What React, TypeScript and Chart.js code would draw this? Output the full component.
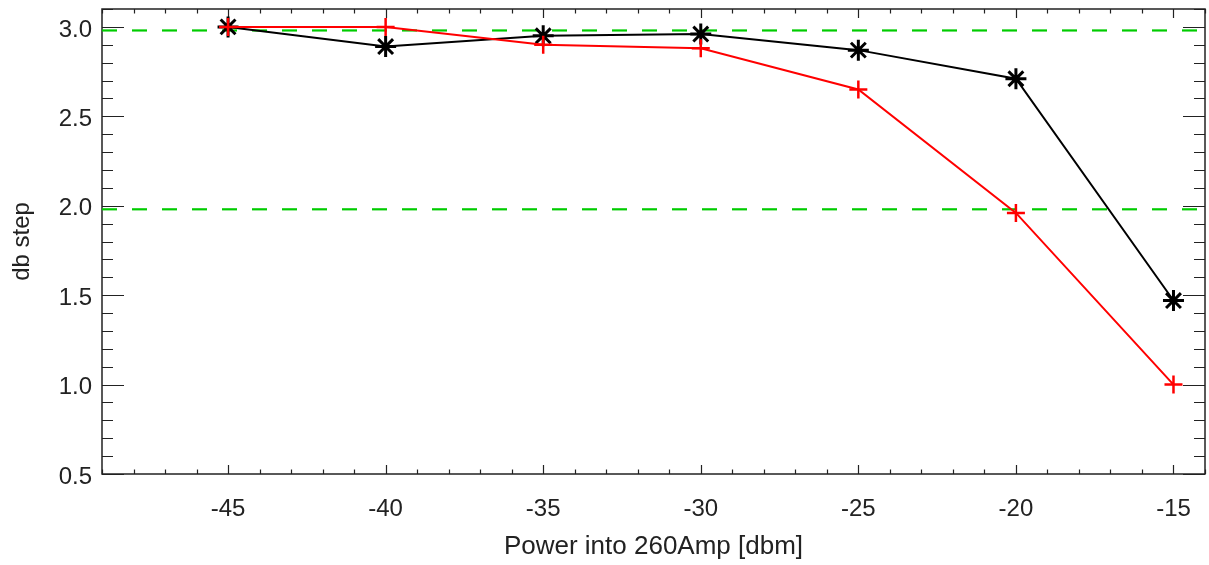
import { useEffect, useRef } from 'react';
import { Chart, registerables } from 'chart.js';

Chart.register(...registerables);

// ---- data ----
const powerDbm = [-45, -40, -35, -30, -25, -20, -15];
const blackSteps = [3.0, 2.89, 2.95, 2.96, 2.87, 2.71, 1.47];
const redSteps = [3.0, 3.0, 2.9, 2.88, 2.65, 1.96, 1.0];
const referenceLevels = [2.98, 1.98];

const xTickValues = [-45, -40, -35, -30, -25, -20, -15];
const yTickValues = [0.5, 1.0, 1.5, 2.0, 2.5, 3.0];
const xRange = [-49, -14];
const yRange = [0.5, 3.1];

const FONT = "'Liberation Sans', Arial, Helvetica, sans-serif";
const TEXT = '#222';

const frameTicks = {
  id: 'frameTicks',
  beforeDatasetsDraw(chart: any) {
    const { ctx, chartArea: a, scales } = chart;
    const x = scales.x;
    const y = scales.y;
    ctx.save();
    ctx.strokeStyle = '#222';
    ctx.lineWidth = 1.2;
    ctx.beginPath();
    const nY = Math.round((y.max - y.min) / 0.1);
    for (let i = 0; i <= nY; i++) {
      const v = y.min + i * 0.1;
      const major = Math.abs(v * 2 - Math.round(v * 2)) < 1e-6;
      const len = major ? 22 : 11;
      const py = Math.round(y.getPixelForValue(v)) + 0.5;
      ctx.moveTo(a.left, py);
      ctx.lineTo(a.left + len, py);
      ctx.moveTo(a.right, py);
      ctx.lineTo(a.right - len, py);
    }
    for (let v = Math.ceil(x.min); v <= x.max; v++) {
      const major = v % 5 === 0;
      const len = major ? 9 : 4.5;
      const px = Math.round(x.getPixelForValue(v)) + 0.5;
      ctx.moveTo(px, a.bottom);
      ctx.lineTo(px, a.bottom - len);
      ctx.moveTo(px, a.top);
      ctx.lineTo(px, a.top + len);
    }
    ctx.stroke();
    ctx.lineWidth = 1.5;
    ctx.strokeRect(a.left, a.top, a.right - a.left, a.bottom - a.top);
    ctx.restore();
  },
};

export default function App() {
  const ref = useRef<HTMLCanvasElement | null>(null);

  useEffect(() => {
    if (!ref.current) return;
    const toPoints = (ys: number[]) => powerDbm.map((xv, i) => ({ x: xv, y: ys[i] }));
    const chart = new Chart(ref.current, {
      type: 'line',
      data: {
        datasets: [
          {
            label: 'red',
            data: toPoints(redSteps),
            borderColor: '#ff0000',
            backgroundColor: '#ff0000',
            borderWidth: 2,
            pointStyle: 'cross',
            pointRadius: 9,
            pointBorderWidth: 2.5,
            pointBorderColor: '#ff0000',
          },
          {
            label: 'black',
            data: toPoints(blackSteps),
            borderColor: '#000000',
            backgroundColor: '#000000',
            borderWidth: 2,
            pointStyle: 'star',
            pointRadius: 10.5,
            pointBorderWidth: 3,
            pointBorderColor: '#000000',
          },
          ...referenceLevels.map((lvl, i) => ({
            label: 'ref' + i,
            data: xRange.map((xv) => ({ x: xv, y: lvl })),
            borderColor: '#00cc00',
            borderWidth: 2.2,
            borderDash: [15, 15],
            pointRadius: 0,
          })),
        ],
      },
      options: {
        responsive: false,
        animation: false,
        layout: { autoPadding: false, padding: { top: 9, right: 4, left: 0, bottom: 0 } },
        plugins: { legend: { display: false }, tooltip: { enabled: false } },
        elements: { line: { tension: 0 } },
        scales: {
          x: {
            type: 'linear',
            min: xRange[0],
            max: xRange[1],
            grid: { display: false, drawTicks: false },
            border: { display: false },
            afterBuildTicks: (s: any) => {
              s.ticks = xTickValues.map((v) => ({ value: v }));
            },
            afterFit: (s: any) => {
              s.height = 91;
              s.paddingLeft = 0;
              s.paddingRight = 0;
            },
            ticks: {
              autoSkip: false,
              maxRotation: 0,
              padding: 21,
              color: TEXT,
              font: { family: FONT, size: 24 },
              callback: (v: any) => String(v),
            },
            title: {
              display: true,
              text: 'Power into 260Amp [dbm]',
              color: TEXT,
              font: { family: FONT, size: 26 },
              padding: { top: 0, bottom: 3 },
            },
          },
          y: {
            type: 'linear',
            min: yRange[0],
            max: yRange[1],
            grid: { display: false, drawTicks: false },
            border: { display: false },
            afterBuildTicks: (s: any) => {
              s.ticks = yTickValues.map((v) => ({ value: v }));
            },
            afterFit: (s: any) => {
              s.width = 102;
              s.paddingTop = 0;
              s.paddingBottom = 0;
            },
            ticks: {
              autoSkip: false,
              padding: 10,
              labelOffset: 3,
              color: TEXT,
              font: { family: FONT, size: 24 },
              callback: (v: any) => Number(v).toFixed(1),
            },
            title: {
              display: true,
              text: 'db step',
              color: TEXT,
              font: { family: FONT, size: 24 },
              padding: { top: 8, bottom: 0 },
            },
          },
        },
      },
      plugins: [frameTicks],
    } as any);
    return () => chart.destroy();
  }, []);

  return (
    <div style={{ position: 'absolute', left: 0, top: 0, width: 1209, height: 565, background: '#fff' }}>
      <canvas ref={ref} width={1209} height={565} style={{ display: 'block' }} />
    </div>
  );
}
